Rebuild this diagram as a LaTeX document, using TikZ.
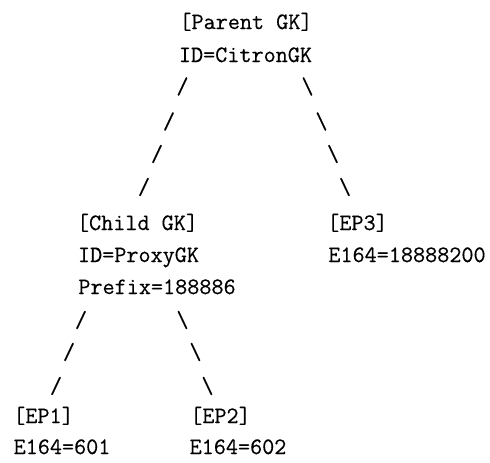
\documentclass[tikz,border=0pt]{standalone}
\usepackage{fontspec}
\setmonofont[FakeBold=0.4]{Latin Modern Mono}
\begin{document}
\begin{tikzpicture}[x=1pt,y=-1pt,
  tt/.style={inner sep=0pt,anchor=base,font=\fontsize{23.5}{27}\selectfont\ttfamily},
  sl/.style={inner sep=0pt,anchor=center,font=\fontsize{23.5}{27}\selectfont\ttfamily}]
\useasboundingbox (0,0) rectangle (490,463);
% parent gatekeeper
\node[tt] (parent)   at (246,29)  {[Parent GK]};
\node[tt] (parentid) at (245.5,62) {ID=CitronGK};
% branches below the parent
\node[sl] (pl1) at (182.5,86.5) {/};
\node[sl] (pl2) at (169,121.5)  {/};
\node[sl] (pl3) at (157,154)    {/};
\node[sl] (pl4) at (144,187)    {/};
\node[sl] (pr1) at (307.5,86.5) {\char`\\};
\node[sl] (pr2) at (321.5,121.5){\char`\\};
\node[sl] (pr3) at (333,154)    {\char`\\};
\node[sl] (pr4) at (345,187)    {\char`\\};
% child gatekeeper and EP3
\node[tt] (child)     at (137.5,230) {[Child GK]};
\node[tt] (childid)   at (138.5,262) {ID=ProxyGK};
\node[tt] (childpre)  at (157,294)   {Prefix=188886};
\node[tt] (ep3)       at (357.5,230) {[EP3]};
\node[tt] (ep3num)    at (407,262)   {E164=18888200};
% branches below the child
\node[sl] (cl1) at (81,320)    {/};
\node[sl] (cl2) at (69,352)    {/};
\node[sl] (cl3) at (56,386)    {/};
\node[sl] (cr1) at (182.5,320) {\char`\\};
\node[sl] (cr2) at (195.5,352) {\char`\\};
\node[sl] (cr3) at (207.5,386) {\char`\\};
% endpoints
\node[tt] (ep1)    at (43.5,423)  {[EP1]};
\node[tt] (ep1num) at (62,454)    {E164=601};
\node[tt] (ep2)    at (220.5,423) {[EP2]};
\node[tt] (ep2num) at (238,454)   {E164=602};
\end{tikzpicture}
\end{document}
